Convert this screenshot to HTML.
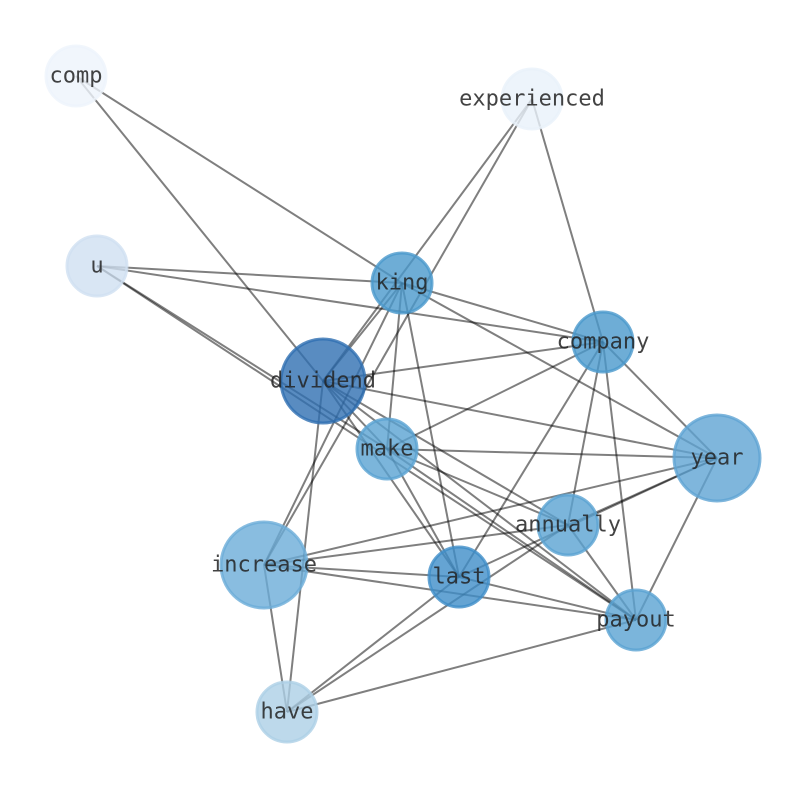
<!DOCTYPE html>
<html><head><meta charset="utf-8"><style>body{margin:0;background:#fff}</style></head><body>
<svg width="794" height="790" xmlns="http://www.w3.org/2000/svg">
<g stroke="#000" stroke-opacity="0.5" stroke-width="2">
<line x1="76" y1="76" x2="402" y2="283"/><line x1="76" y1="76" x2="323" y2="381"/>
<line x1="532" y1="99" x2="323" y2="381"/><line x1="532" y1="99" x2="264" y2="565"/><line x1="532" y1="99" x2="603" y2="342"/>
<line x1="97" y1="266" x2="402" y2="283"/><line x1="97" y1="266" x2="603" y2="342"/><line x1="97" y1="266" x2="387" y2="449"/><line x1="97" y1="266" x2="636" y2="620"/>
<line x1="402" y1="283" x2="603" y2="342"/><line x1="402" y1="283" x2="717" y2="458"/><line x1="402" y1="283" x2="323" y2="381"/><line x1="402" y1="283" x2="387" y2="449"/><line x1="402" y1="283" x2="459" y2="577"/><line x1="402" y1="283" x2="264" y2="565"/>
<line x1="603" y1="342" x2="323" y2="381"/><line x1="603" y1="342" x2="387" y2="449"/><line x1="603" y1="342" x2="459" y2="577"/><line x1="603" y1="342" x2="568" y2="525"/><line x1="603" y1="342" x2="636" y2="620"/><line x1="603" y1="342" x2="717" y2="458"/>
<line x1="323" y1="381" x2="717" y2="458"/><line x1="323" y1="381" x2="568" y2="525"/><line x1="323" y1="381" x2="636" y2="620"/><line x1="323" y1="381" x2="459" y2="577"/><line x1="323" y1="381" x2="387" y2="449"/><line x1="323" y1="381" x2="287" y2="712"/>
<line x1="387" y1="449" x2="717" y2="458"/><line x1="387" y1="449" x2="459" y2="577"/><line x1="387" y1="449" x2="636" y2="620"/><line x1="387" y1="449" x2="568" y2="525"/>
<line x1="717" y1="458" x2="264" y2="565"/><line x1="717" y1="458" x2="568" y2="525"/><line x1="717" y1="458" x2="459" y2="577"/><line x1="717" y1="458" x2="636" y2="620"/>
<line x1="287" y1="712" x2="568" y2="525"/><line x1="287" y1="712" x2="459" y2="577"/><line x1="287" y1="712" x2="636" y2="620"/><line x1="287" y1="712" x2="264" y2="565"/>
<line x1="568" y1="525" x2="264" y2="565"/><line x1="568" y1="525" x2="636" y2="620"/>
<line x1="264" y1="565" x2="459" y2="577"/><line x1="264" y1="565" x2="636" y2="620"/><line x1="459" y1="577" x2="636" y2="620"/>
</g>
<g stroke-width="3" fill-opacity="0.8" stroke-opacity="0.8">
<circle cx="76" cy="76" r="30" fill="#eef4fb" stroke="#eef4fb"/>
<circle cx="532" cy="99" r="30" fill="#e8f1fa" stroke="#e8f1fa"/>
<circle cx="97" cy="266" r="30" fill="#cfe0f1" stroke="#cfe0f1"/>
<circle cx="402" cy="283" r="30" fill="#4a98cc" stroke="#4a98cc"/>
<circle cx="603" cy="342" r="30" fill="#4a98cc" stroke="#4a98cc"/>
<circle cx="323" cy="381" r="42" fill="#2f6fb2" stroke="#2f6fb2"/>
<circle cx="387" cy="449" r="30" fill="#5aa2d2" stroke="#5aa2d2"/>
<circle cx="717" cy="458" r="43" fill="#5fa4d3" stroke="#5fa4d3"/>
<circle cx="568" cy="525" r="30" fill="#5aa2d2" stroke="#5aa2d2"/>
<circle cx="264" cy="565" r="43" fill="#6cadd8" stroke="#6cadd8"/>
<circle cx="459" cy="577" r="30" fill="#3e8dc8" stroke="#3e8dc8"/>
<circle cx="636" cy="620" r="30" fill="#5aa2d2" stroke="#5aa2d2"/>
<circle cx="287" cy="712" r="30" fill="#add0e6" stroke="#add0e6"/>
</g>
<g font-family="DejaVu Sans Mono, Liberation Mono, monospace" font-size="22" fill="#222" fill-opacity="0.85" text-anchor="middle" dominant-baseline="central">
<text x="76" y="76">comp</text><text x="532" y="99">experienced</text><text x="97" y="266">u</text>
<text x="402" y="283">king</text><text x="603" y="342">company</text><text x="323" y="381">dividend</text>
<text x="387" y="449">make</text><text x="717" y="458">year</text><text x="568" y="525">annually</text>
<text x="264" y="565">increase</text><text x="459" y="577">last</text><text x="636" y="620">payout</text><text x="287" y="712">have</text>
</g>
</svg>
</body></html>
